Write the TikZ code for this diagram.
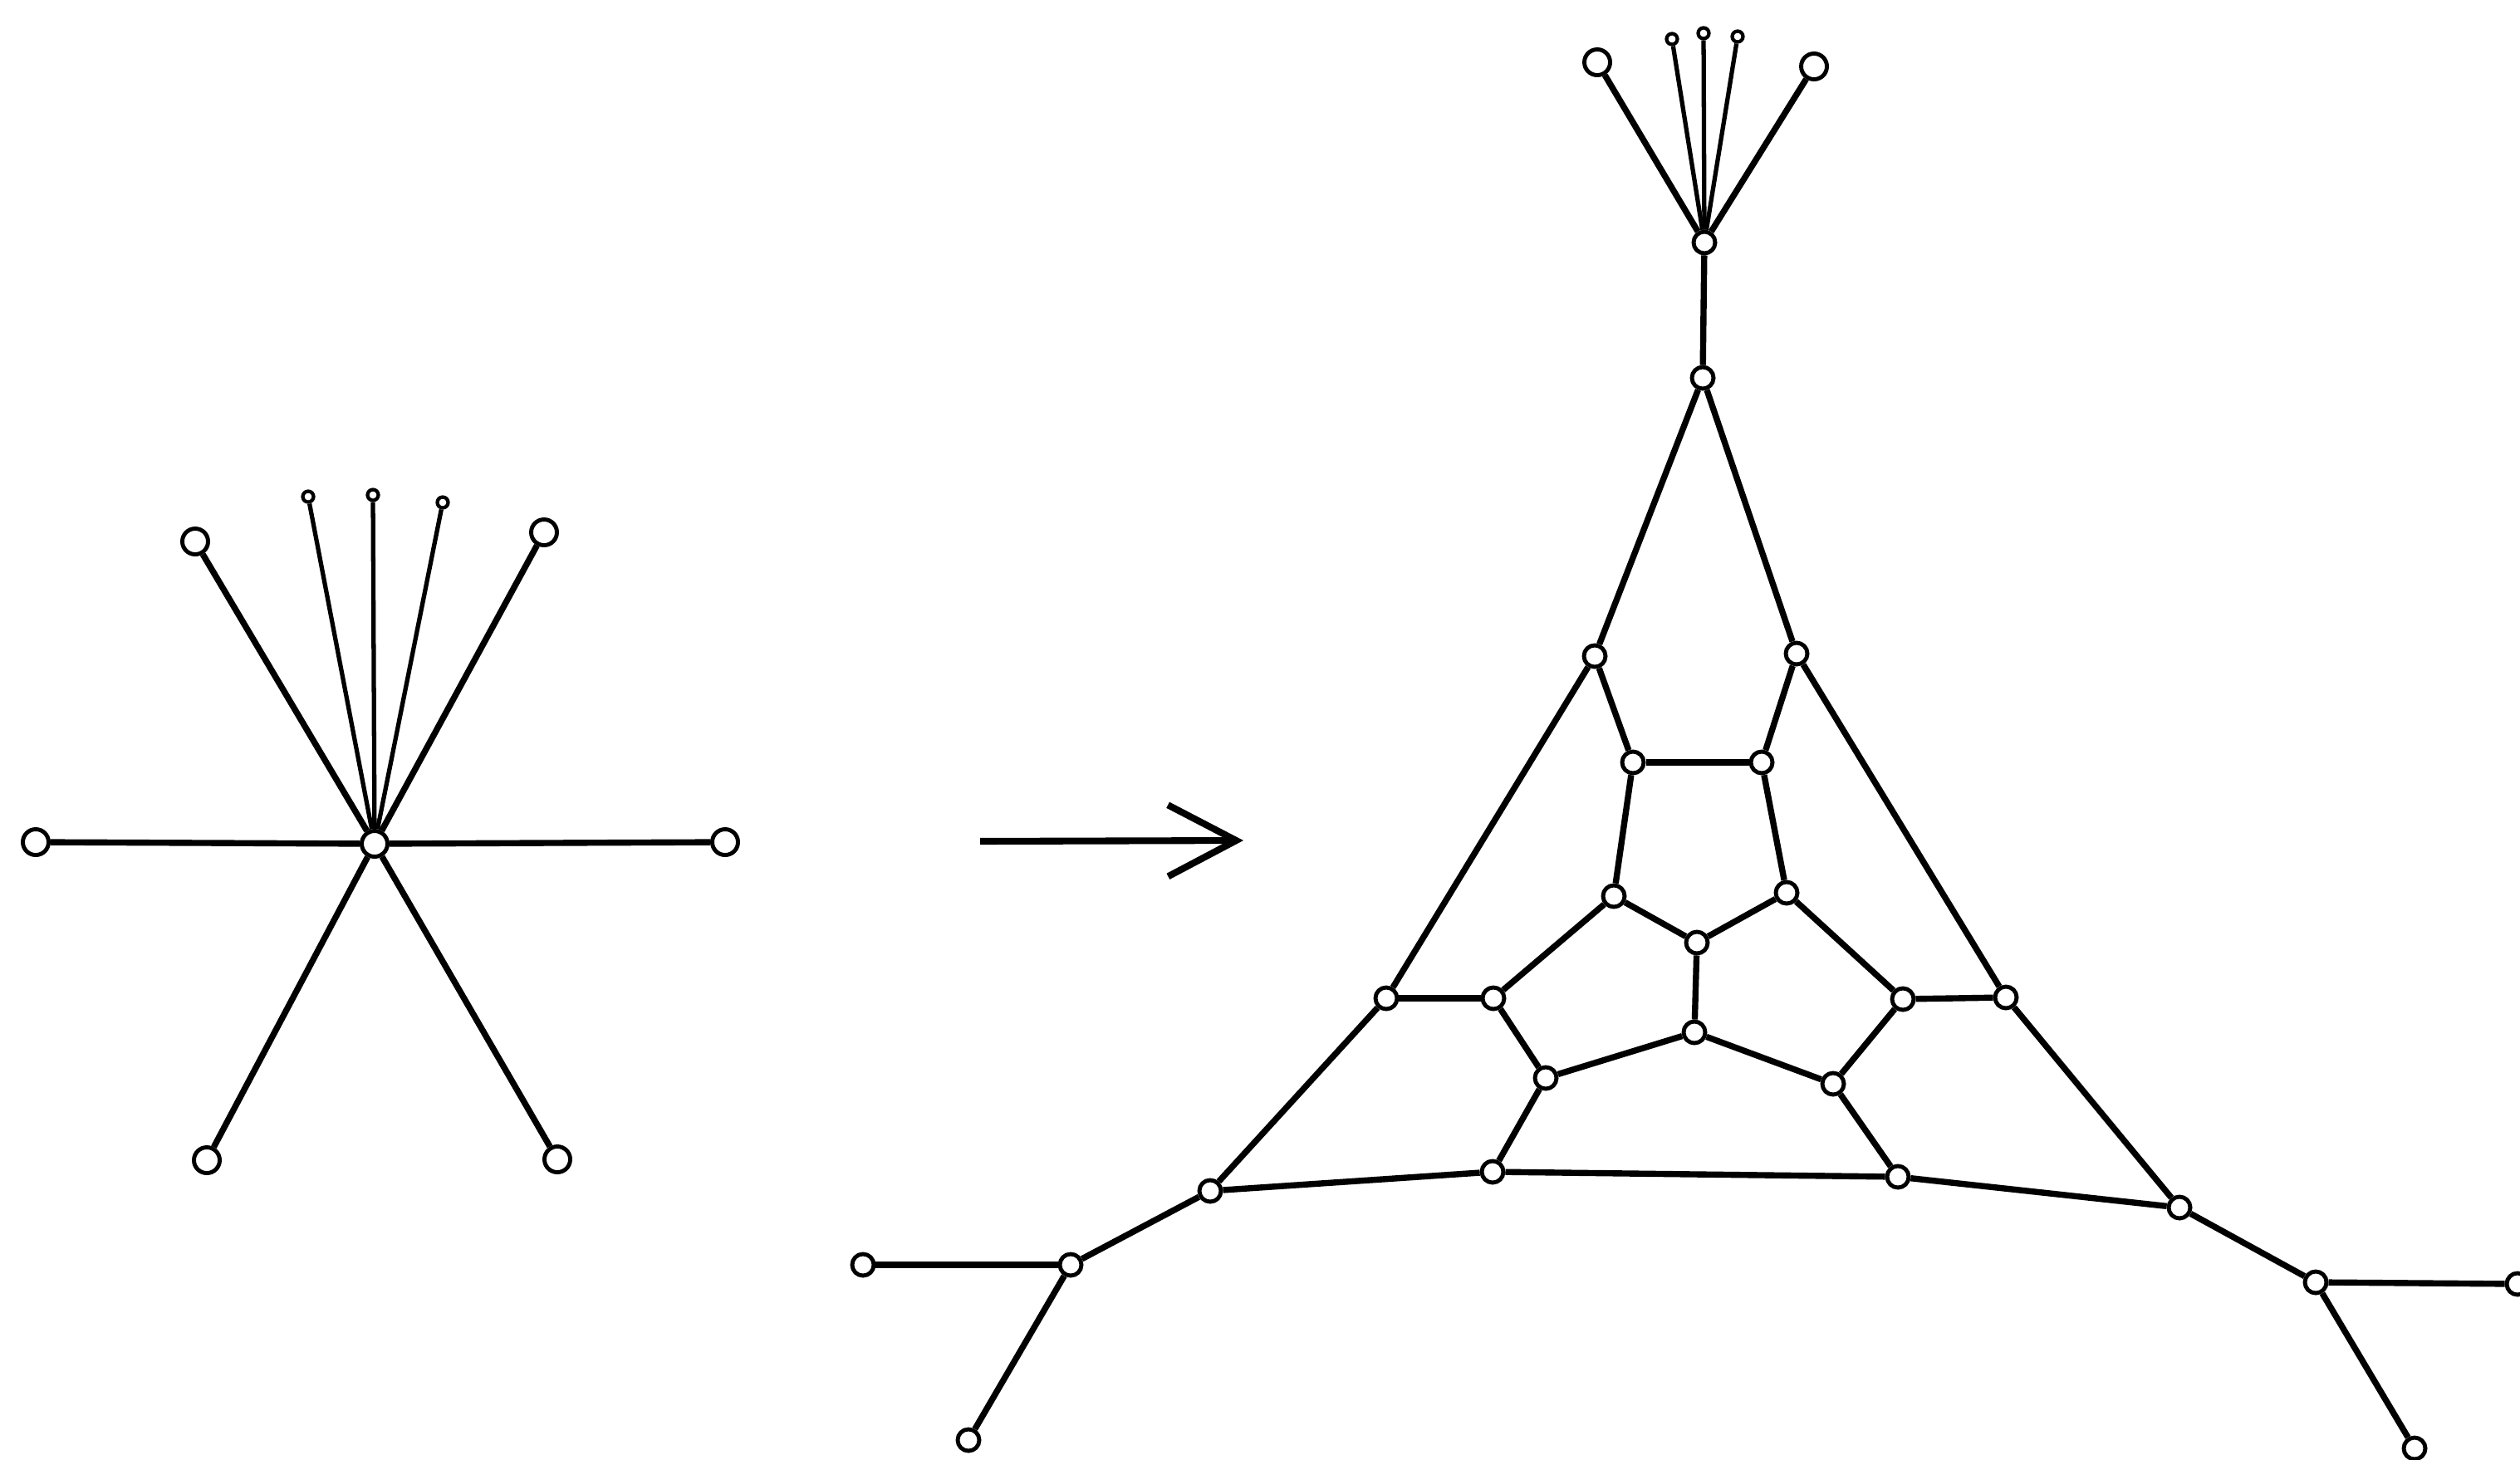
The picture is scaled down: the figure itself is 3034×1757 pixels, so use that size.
\documentclass[tikz,border=0pt]{standalone}
\usetikzlibrary{arrows.meta}
\begin{document}
\begin{tikzpicture}[x=0.01cm,y=-0.01cm,
  vtx/.style={circle,draw,fill=white,inner sep=0pt,minimum size=0.26cm,line width=1.4pt},
  bigvtx/.style={vtx,minimum size=0.31cm},
  smallvtx/.style={circle,draw,fill=white,inner sep=0pt,minimum size=0.13cm,line width=1.2pt},
  edg/.style={line width=2.1pt},
  thinedg/.style={line width=1.5pt}]
\useasboundingbox (0,0) rectangle (3034,1757);
% ---- left star
\node[bigvtx] (s0) at (451,1016) {};
\node[bigvtx] (sl) at (43,1014) {};
\node[bigvtx] (sr) at (873,1014) {};
\node[bigvtx] (sul) at (235,652) {};
\node[bigvtx] (sur) at (655,641) {};
\node[bigvtx] (sll) at (249,1397) {};
\node[bigvtx] (slr) at (671,1396) {};
\node[smallvtx] (st1) at (371,598) {};
\node[smallvtx] (st2) at (449,596) {};
\node[smallvtx] (st3) at (533,605) {};
\foreach \t in {sl,sr,sul,sur,sll,slr} \draw[edg] (s0) -- (\t);
\foreach \t in {st1,st2,st3} \draw[thinedg] (s0) -- (\t);
% ---- arrow
\coordinate (a1) at (1180,1013);
\coordinate (a2) at (1497,1012);
\draw[line width=2.3pt,-{Straight Barb[length=0.82cm,width=0.86cm,line width=2.3pt]}] (a1) -- (a2);
% ---- right graph
\node[bigvtx] (pl) at (1923,75) {};
\node[smallvtx] (p1) at (2013,47) {};
\node[smallvtx] (p2) at (2051,40) {};
\node[smallvtx] (p3) at (2092,44) {};
\node[bigvtx] (pr) at (2184,80) {};
\node[vtx] (hub) at (2052,292) {};
\node[vtx] (T) at (2050,455) {};
\node[vtx] (AL) at (1920,790) {};
\node[vtx] (AR) at (2163,787) {};
\node[vtx] (BL) at (1966,918) {};
\node[vtx] (BR) at (2121,918) {};
\node[vtx] (CL) at (1943,1079) {};
\node[vtx] (CR) at (2151,1075) {};
\node[vtx] (D) at (2043,1135) {};
\node[vtx] (E) at (2040,1243) {};
\node[vtx] (FL) at (1669,1202) {};
\node[vtx] (GL) at (1798,1202) {};
\node[vtx] (GR) at (2291,1203) {};
\node[vtx] (FR) at (2415,1201) {};
\node[vtx] (HL) at (1861,1298) {};
\node[vtx] (HR) at (2207,1305) {};
\node[vtx] (IL) at (1797,1411) {};
\node[vtx] (IR) at (2285,1417) {};
\node[vtx] (JL) at (1457,1434) {};
\node[vtx] (JR) at (2624,1454) {};
\node[vtx] (KL) at (1289,1523) {};
\node[vtx] (KR) at (2788,1544) {};
\node[vtx] (LL) at (1039,1523) {};
\node[vtx] (ML) at (1166,1734) {};
\node[vtx] (LR) at (3031,1546) {};
\node[vtx] (MR) at (2907,1744) {};
\draw[edg] (hub) -- (pl);
\draw[edg] (hub) -- (pr);
\foreach \t in {p1,p2,p3} \draw[thinedg] (hub) -- (\t);
\draw[edg] (hub) -- (T);
\draw[edg] (T) -- (AL);
\draw[edg] (T) -- (AR);
\draw[edg] (AL) -- (BL);
\draw[edg] (AR) -- (BR);
\draw[edg] (BL) -- (BR);
\draw[edg] (AL) -- (FL);
\draw[edg] (AR) -- (FR);
\draw[edg] (BL) -- (CL);
\draw[edg] (BR) -- (CR);
\draw[edg] (CL) -- (D);
\draw[edg] (CR) -- (D);
\draw[edg] (D) -- (E);
\draw[edg] (CL) -- (GL);
\draw[edg] (CR) -- (GR);
\draw[edg] (FL) -- (GL);
\draw[edg] (GR) -- (FR);
\draw[edg] (GL) -- (HL);
\draw[edg] (GR) -- (HR);
\draw[edg] (HL) -- (E);
\draw[edg] (HR) -- (E);
\draw[edg] (HL) -- (IL);
\draw[edg] (HR) -- (IR);
\draw[edg] (IL) -- (IR);
\draw[edg] (FL) -- (JL);
\draw[edg] (FR) -- (JR);
\draw[edg] (JL) -- (IL);
\draw[edg] (IR) -- (JR);
\draw[edg] (JL) -- (KL);
\draw[edg] (JR) -- (KR);
\draw[edg] (KL) -- (LL);
\draw[edg] (KL) -- (ML);
\draw[edg] (KR) -- (LR);
\draw[edg] (KR) -- (MR);
\end{tikzpicture}
\end{document}
